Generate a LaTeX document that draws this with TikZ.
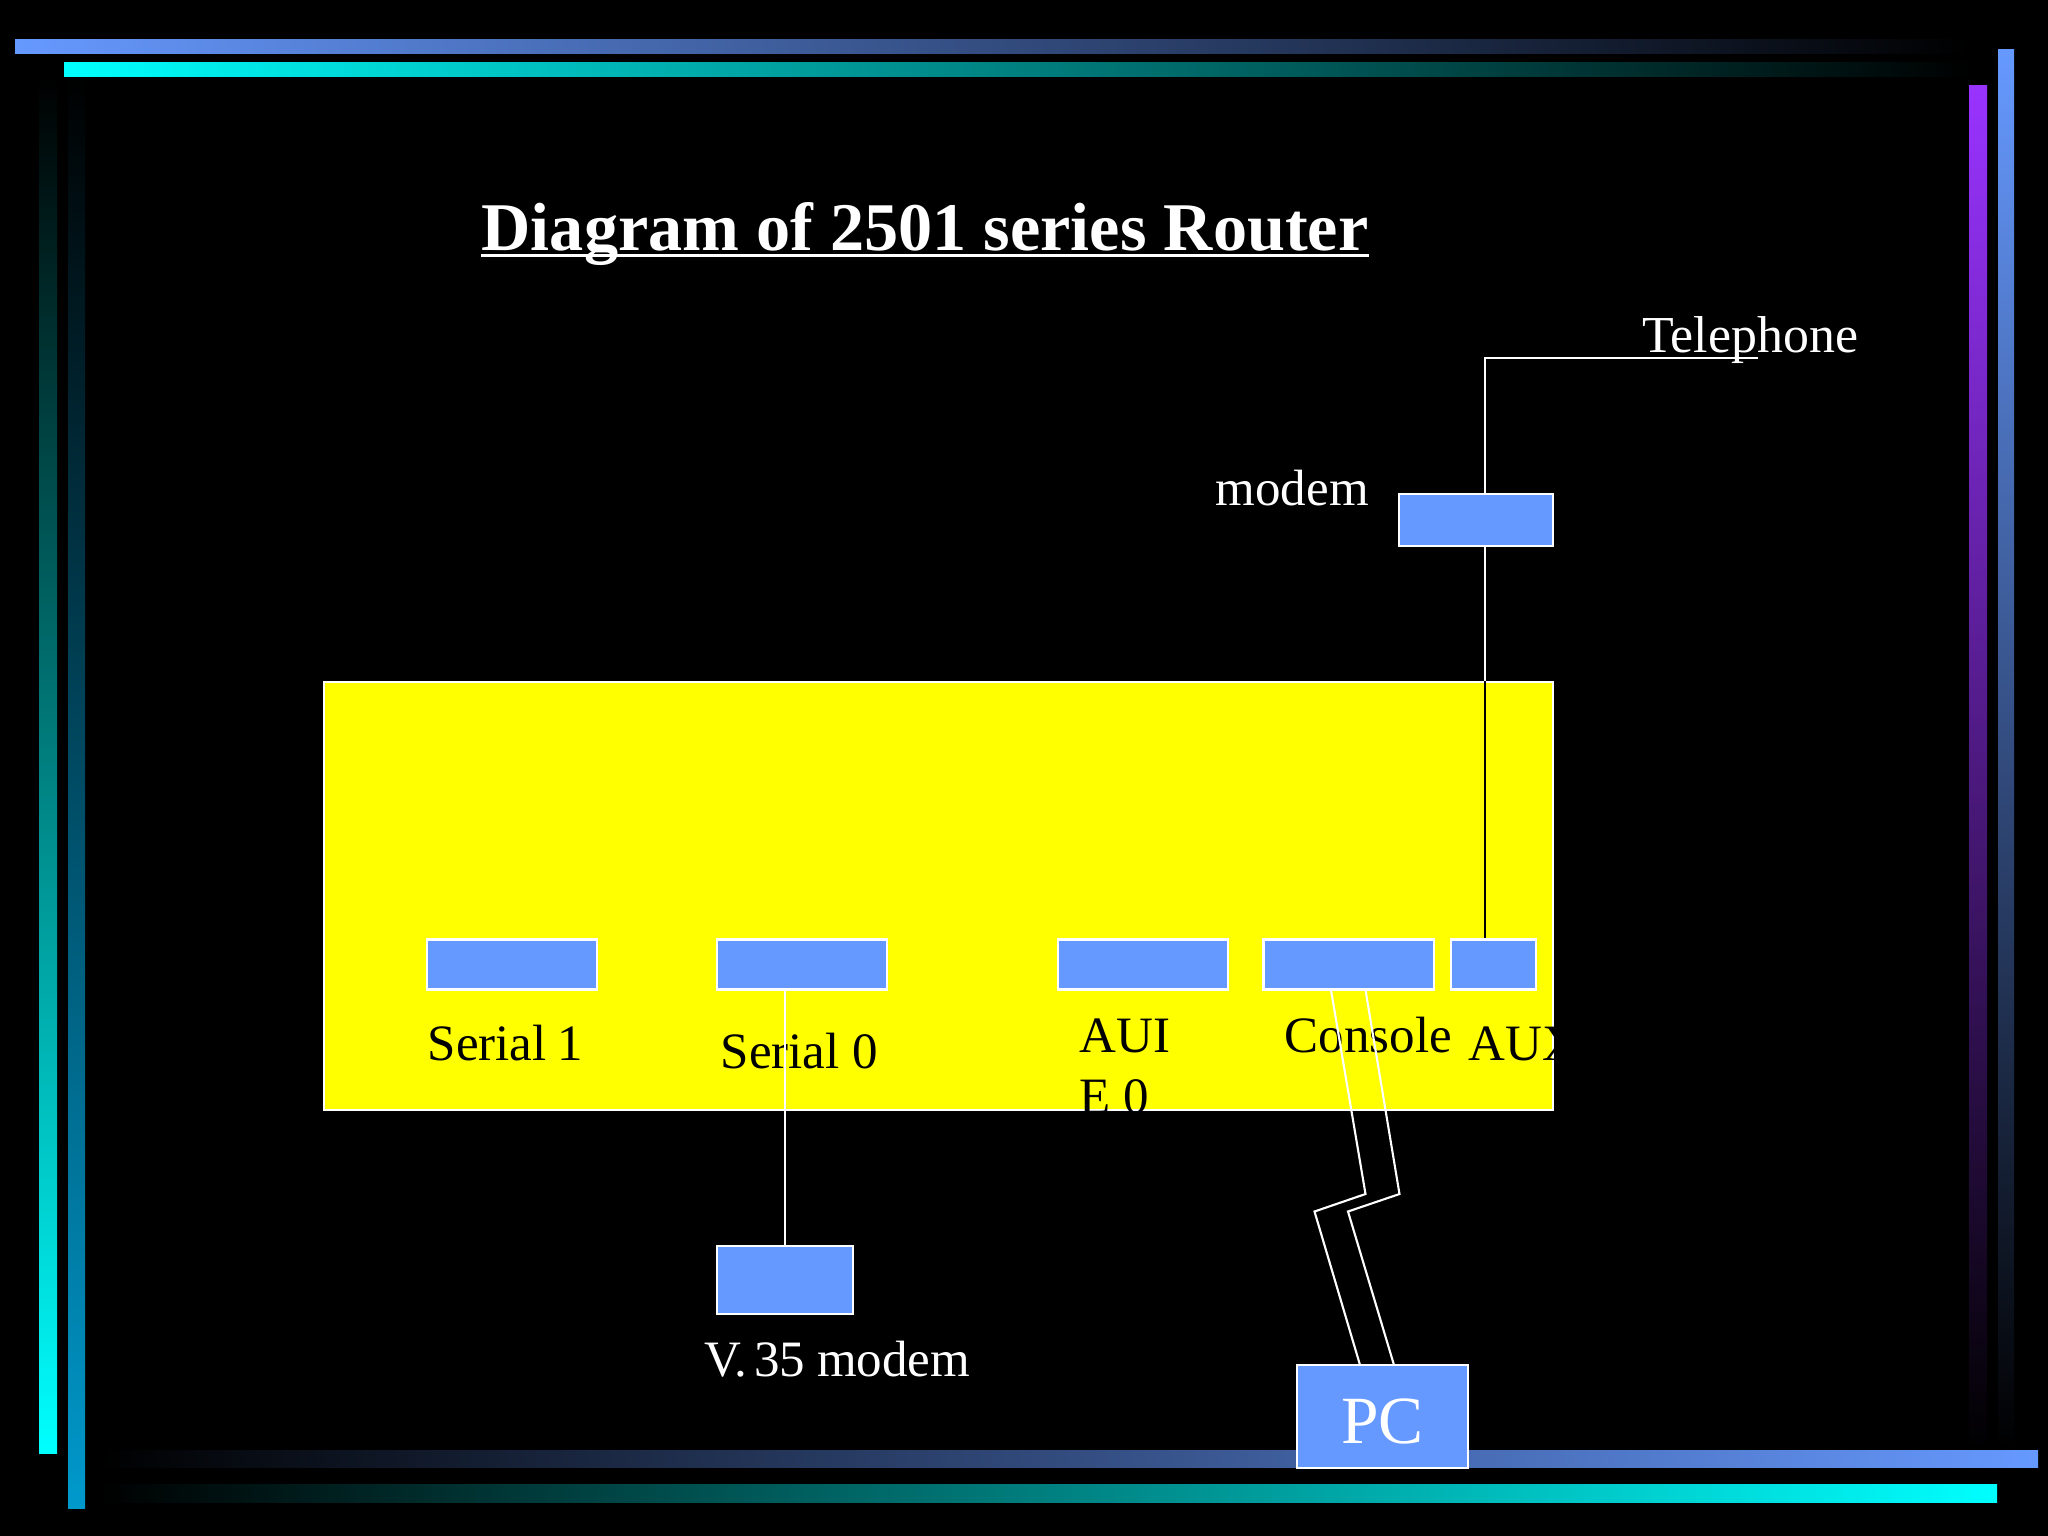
\documentclass[tikz,border=0pt]{standalone}
\usepackage{fontspec}
\setmainfont{Liberation Serif}
\definecolor{barblue}{HTML}{6699FF}
\definecolor{barcyan}{HTML}{00FFFF}
\definecolor{barpurple}{HTML}{9933FF}
\definecolor{barteal}{HTML}{0099CC}
\definecolor{routeryellow}{HTML}{FFFF00}
\tikzset{
	bluebox/.style={draw=white,line width=0.6pt,fill=barblue,inner sep=0pt},
	portbox/.style={bluebox,minimum width=1.7cm,minimum height=0.5cm},
	lbl/.style={anchor=base west,inner sep=0pt,font=\fontsize{14.5}{17}\selectfont},
	wire/.style={draw=white,line width=0.6pt}
}
\begin{document}
\begin{tikzpicture}[x=0.01cm,y=-0.01cm]
	\fill[black] (0,0) rectangle (2048,1536);
	\useasboundingbox (0,0) rectangle (2048,1536);
	\shade[top color=black,bottom color=barcyan] (39,76) rectangle (57,1453);
	\shade[top color=black,bottom color=barteal] (68,76) rectangle (85,1508);
	\shade[left color=barblue,right color=black] (15,39) rectangle (1970,53);
	\shade[left color=barcyan,right color=black] (64,62) rectangle (1970,76);
	\shade[top color=barblue,bottom color=black] (1998,49) rectangle (2014,1450);
	\shade[top color=barpurple,bottom color=black] (1969,85) rectangle (1987,1450);
	\shade[left color=black,right color=barblue] (100,1450) rectangle (2038,1467);
	\shade[left color=black,right color=barcyan] (100,1484) rectangle (1997,1502);
	\node[anchor=base west,inner sep=0pt,text=white,font=\fontsize{19.4}{23}\selectfont\bfseries] (title) at (481,250) {Diagram of 2501 series Router};
	\draw[white,line width=0.8pt] ([yshift=-1.5pt]title.base west)--([yshift=-1.5pt]title.base east);
	\node[draw=white,line width=0.6pt,fill=routeryellow,minimum width=12.28cm,minimum height=4.28cm,inner sep=0pt] (router) at (938.5,896) {};
	\node[portbox] (serialone) at (512,964.5) {};
	\node[portbox] (serialzero) at (802,964.5) {};
	\node[portbox] (aui) at (1143,964.5) {};
	\node[portbox] (console) at (1348.5,964.5) {};
	\node[portbox,minimum width=0.85cm] (aux) at (1493.5,964.5) {};
	\node[bluebox,minimum width=1.54cm,minimum height=0.52cm] (modem) at (1476,520) {};
	\node[bluebox,minimum width=1.36cm,minimum height=0.68cm] (vmodem) at (785,1280) {};
	\node[bluebox,minimum width=1.71cm,minimum height=1.03cm] (pc) at (1382.5,1416.5) {};
	\node[anchor=base,inner sep=0pt,text=white,font=\fontsize{19.2}{22}\selectfont] (pclbl) at (1382.5,1443) {PC};
	\node[lbl] (serialonelbl) at (427,1060) {Serial\kern-.6pt\ 1};
	\node[lbl] (serialzerolbl) at (720,1068) {Serial 0};
	\node[lbl] (consolelbl) at (1284,1052) {Console};
	\begin{scope}
		\clip (router.south west) rectangle (router.north east);
		\node[lbl] (auilbl) at (1079,1052) {AUI};
		\node[lbl] (eolbl) at (1079,1113) {E 0};
		\node[lbl] (auxlbl) at (1468,1060) {AUX};
	\end{scope}
	\node[lbl,text=white] (vmodemlbl) at (704,1376) {V.\kern1.9pt 35\kern-.3pt\ modem};
	\node[lbl,text=white] (modemlbl) at (1215,505) {modem};
	\node[lbl,text=white,font=\fontsize{14.75}{17}\selectfont] (phonelbl) at (1642,352) {Telephone};
	\coordinate (phoneend) at (1758,358);
	\coordinate (phonecorner) at (1485,358);
	\draw[wire] (phoneend)--(phonecorner)--(phonecorner|-modem.north);
	\draw[wire] (phonecorner|-modem.south)--(phonecorner|-router.north);
	\draw[black,line width=0.6pt] (phonecorner|-router.north)--(phonecorner|-aux.north);
	\draw[wire] (vmodem.north)--(vmodem.north|-serialzero.south);
	\coordinate (ca) at (1331,990);
	\coordinate (cb) at (1365.5,1194);
	\coordinate (cc) at (1314.5,1211.5);
	\coordinate (cd) at (1360,1365);
	\coordinate (da) at (1365.5,990);
	\coordinate (db) at (1399.5,1194);
	\coordinate (dc) at (1348,1211.5);
	\coordinate (dd) at (1394,1365);
	\draw[wire] (ca)--(cb)--(cc)--(cd);
	\draw[wire] (da)--(db)--(dc)--(dd);
\end{tikzpicture}
\end{document}
